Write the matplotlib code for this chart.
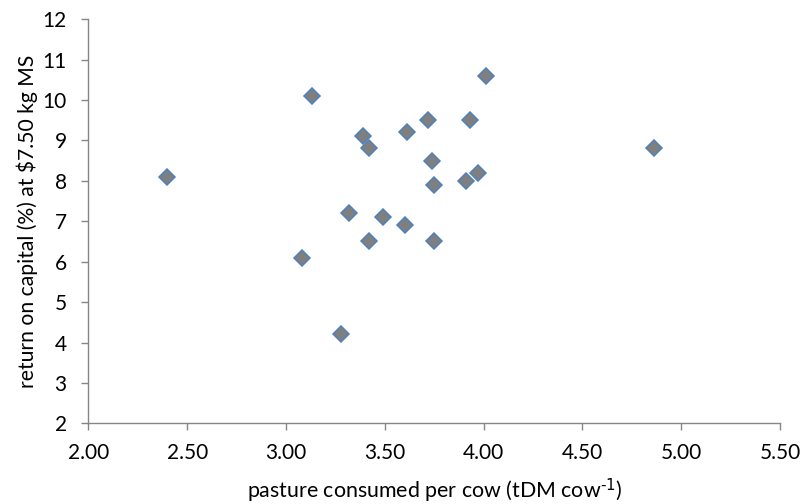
import matplotlib
matplotlib.use("Agg")
import matplotlib.pyplot as plt
from matplotlib.ticker import FormatStrFormatter

plt.rcParams['font.family'] = ['Lato', 'DejaVu Sans']
plt.rcParams['mathtext.default'] = 'regular'

pasture = [2.40, 3.13, 3.39, 3.42, 3.32, 3.49, 3.42, 3.08, 3.28,
           4.01, 3.72, 3.93, 3.61, 3.74, 3.75, 3.91, 3.97, 4.86, 3.60, 3.75]
roc = [8.1, 10.1, 9.1, 8.8, 7.2, 7.1, 6.5, 6.1, 4.2,
       10.6, 9.5, 9.5, 9.2, 8.5, 7.9, 8.0, 8.2, 8.8, 6.9, 6.5]

x_ticks = [2.0, 2.5, 3.0, 3.5, 4.0, 4.5, 5.0, 5.5]
y_ticks = [2, 3, 4, 5, 6, 7, 8, 9, 10, 11, 12]

xlabel_text = r'pasture consumed per cow (tDM cow$^{\text{-1}}$)'
ylabel_text = r'return on capital (%) at \$7.50 kg MS'

fig = plt.figure(figsize=(8.05, 5.04), dpi=100)
ax = fig.add_axes([0.1097, 0.160, 0.969 - 0.1097, 0.962 - 0.160])
renderer = fig.canvas.get_renderer()


def fit_size(text, target_px, base=14.0, rotation=0):
    t = fig.text(0, 0, text, fontsize=base, rotation=rotation)
    bb = t.get_window_extent(renderer)
    size = bb.height if rotation else bb.width
    t.remove()
    return base * target_px / size


tick_fs = fit_size('3.00', 41.7)
xl_fs = fit_size(xlabel_text, 377)
yl_fs = fit_size(ylabel_text, 335, rotation=90)

ax.plot(pasture, roc, linestyle='none', marker='D', markersize=8.5,
        markerfacecolor='#7f7f7f', markeredgecolor='#4f81bd', markeredgewidth=1.1,
        clip_on=False)

ax.set_xlim(2.0, 5.5)
ax.set_ylim(2, 12)
ax.set_xticks(x_ticks)
ax.set_yticks(y_ticks)
ax.xaxis.set_major_formatter(FormatStrFormatter('%.2f'))

for s in ['top', 'right']:
    ax.spines[s].set_visible(False)
for s in ['left', 'bottom']:
    ax.spines[s].set_color('#868686')
    ax.spines[s].set_linewidth(1.0)

ax.tick_params(axis='both', direction='out', length=5, width=1.0, color='#868686',
               labelsize=tick_fs, labelcolor='black')
ax.tick_params(axis='x', pad=9)
ax.tick_params(axis='y', pad=10.5)

ax.set_xlabel(xlabel_text, fontsize=xl_fs)
ax.xaxis.label.set_va('baseline')
ax.xaxis.set_label_coords(0.5, (423.3 - 498) / 404.3)

ax.set_ylabel(ylabel_text, fontsize=yl_fs)
ax.yaxis.label.set_va('center')
ax.yaxis.set_label_coords((27 - 88.3) / 691.7, (423.3 - 221) / 404.3)

fig.savefig('out.png', dpi=100)
